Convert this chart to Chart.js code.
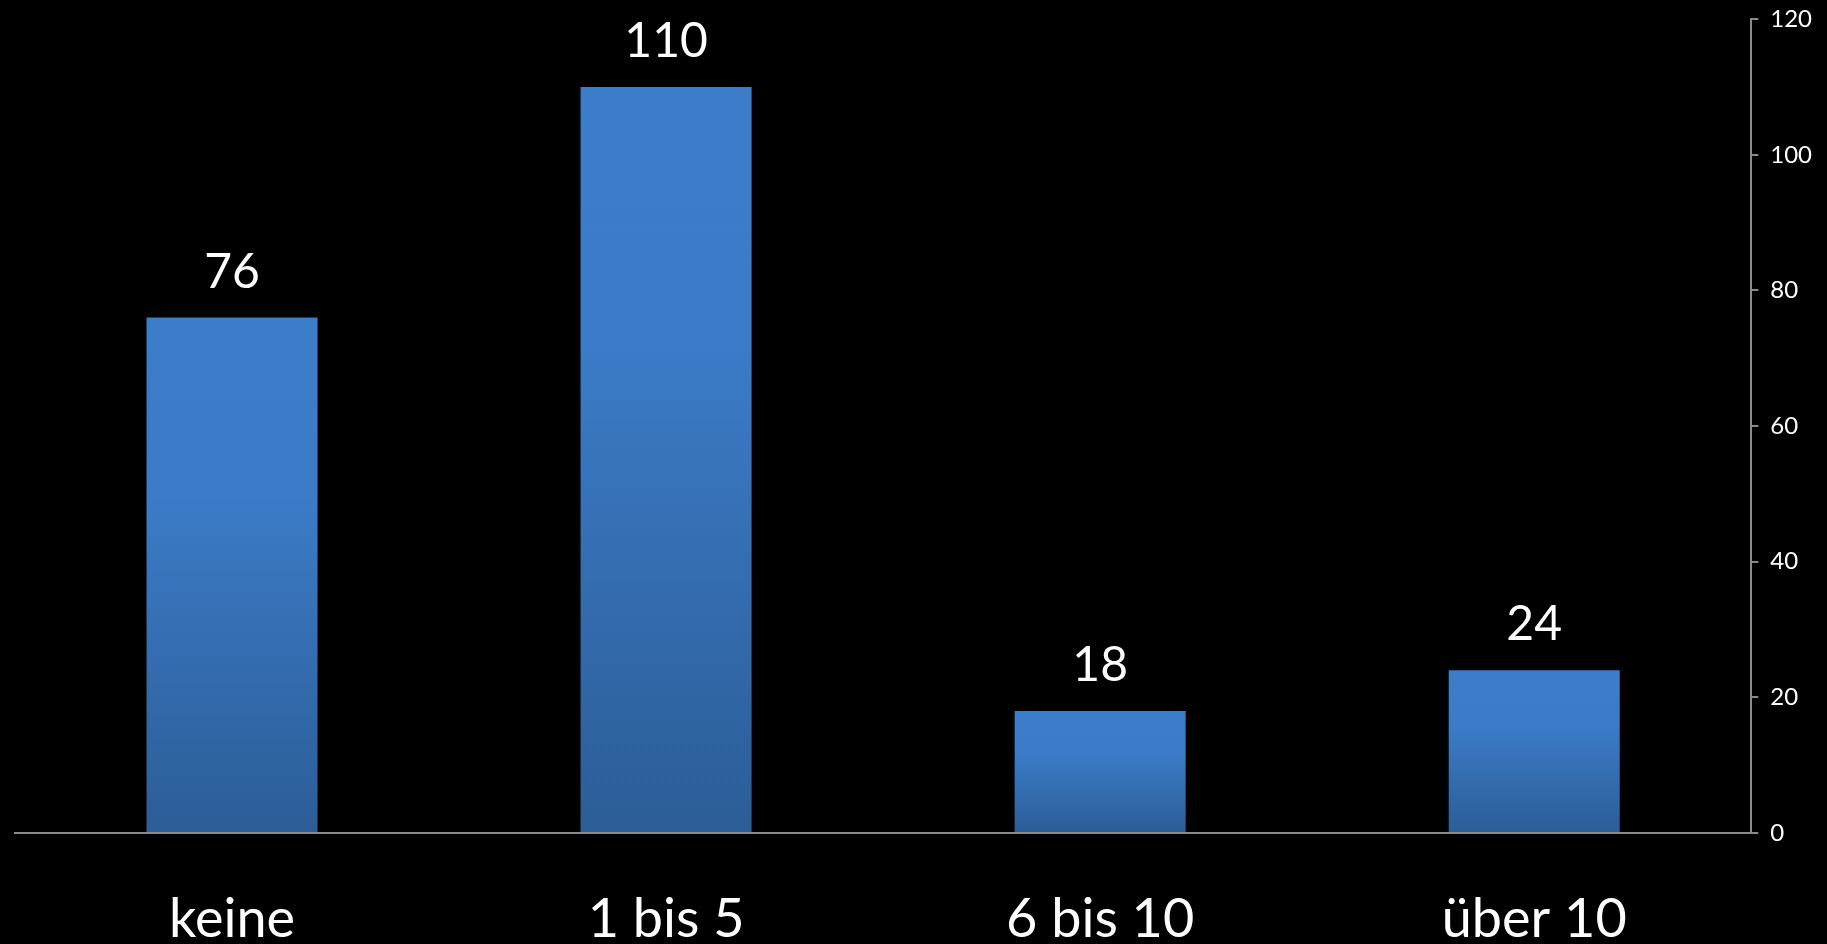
<!DOCTYPE html>
<html>
<head>
<meta charset="utf-8">
<script src="https://cdn.jsdelivr.net/npm/chart.js@4.4.1/dist/chart.umd.min.js"></script>
<style>
  html, body { margin: 0; padding: 0; background: #000; }
  #wrap { width: 1827px; height: 944px; position: relative; }
</style>
</head>
<body>
<div id="wrap"><canvas id="myChart"></canvas></div>
<script>
const categories = ["keine", "1 bis 5", "6 bis 10", "über 10"];
const values = [76, 110, 18, 24];
const yTicks = [0, 20, 40, 60, 80, 100, 120];

const barTop = "#3c7dca";
const barBottom = "#2c5d96";

// draws the number above every bar
const valueLabels = {
  id: "valueLabels",
  afterDatasetsDraw(chart) {
    const ctx = chart.ctx;
    const meta = chart.getDatasetMeta(0);
    ctx.save();
    ctx.fillStyle = "#ffffff";
    ctx.font = "48px Lato";
    ctx.textAlign = "center";
    ctx.textBaseline = "alphabetic";
    meta.data.forEach((bar, i) => {
      ctx.fillText(String(values[i]), bar.x, bar.y - 30);
    });
    ctx.restore();
  },
};

const ctx = document.getElementById("myChart").getContext("2d");
new Chart(ctx, {
  type: "bar",
  data: {
    labels: categories,
    datasets: [
      {
        data: values,
        barPercentage: 0.394,
        categoryPercentage: 1,
        backgroundColor: function (c) {
          const chart = c.chart;
          if (!chart.chartArea || c.type !== "data") return barTop;
          const y = chart.scales.y;
          const top = y.getPixelForValue(c.raw);
          const bottom = y.getPixelForValue(0);
          const g = chart.ctx.createLinearGradient(0, top, 0, bottom);
          g.addColorStop(0, barTop);
          g.addColorStop(0.35, "#3b7bc7");
          g.addColorStop(1, barBottom);
          return g;
        },
      },
    ],
  },
  options: {
    responsive: true,
    maintainAspectRatio: false,
    animation: false,
    layout: { padding: { left: 15, right: 3, top: 6, bottom: 0 } },
    plugins: {
      legend: { display: false },
      tooltip: { enabled: false },
    },
    scales: {
      x: {
        grid: { display: false, drawTicks: false },
        border: { display: true, color: "#8a8a8a", width: 2 },
        ticks: {
          color: "#ffffff",
          font: { family: "Lato", size: 54 },
          padding: 54,
        },
        afterFit: (axis) => {
          axis.height = 111;
        },
      },
      y: {
        position: "right",
        min: 0,
        max: 120,
        afterBuildTicks: (axis) => {
          axis.ticks = yTicks.map((v) => ({ value: v }));
        },
        grid: {
          drawOnChartArea: false,
          drawTicks: true,
          tickLength: 7,
          color: "#8a8a8a",
          lineWidth: 2,
        },
        border: { display: true, color: "#8a8a8a", width: 2 },
        ticks: {
          color: "#ffffff",
          font: { family: "Lato", size: 24, lineHeight: 0.6 },
          padding: 12,
        },
      },
    },
  },
  plugins: [valueLabels],
});
</script>
</body>
</html>
